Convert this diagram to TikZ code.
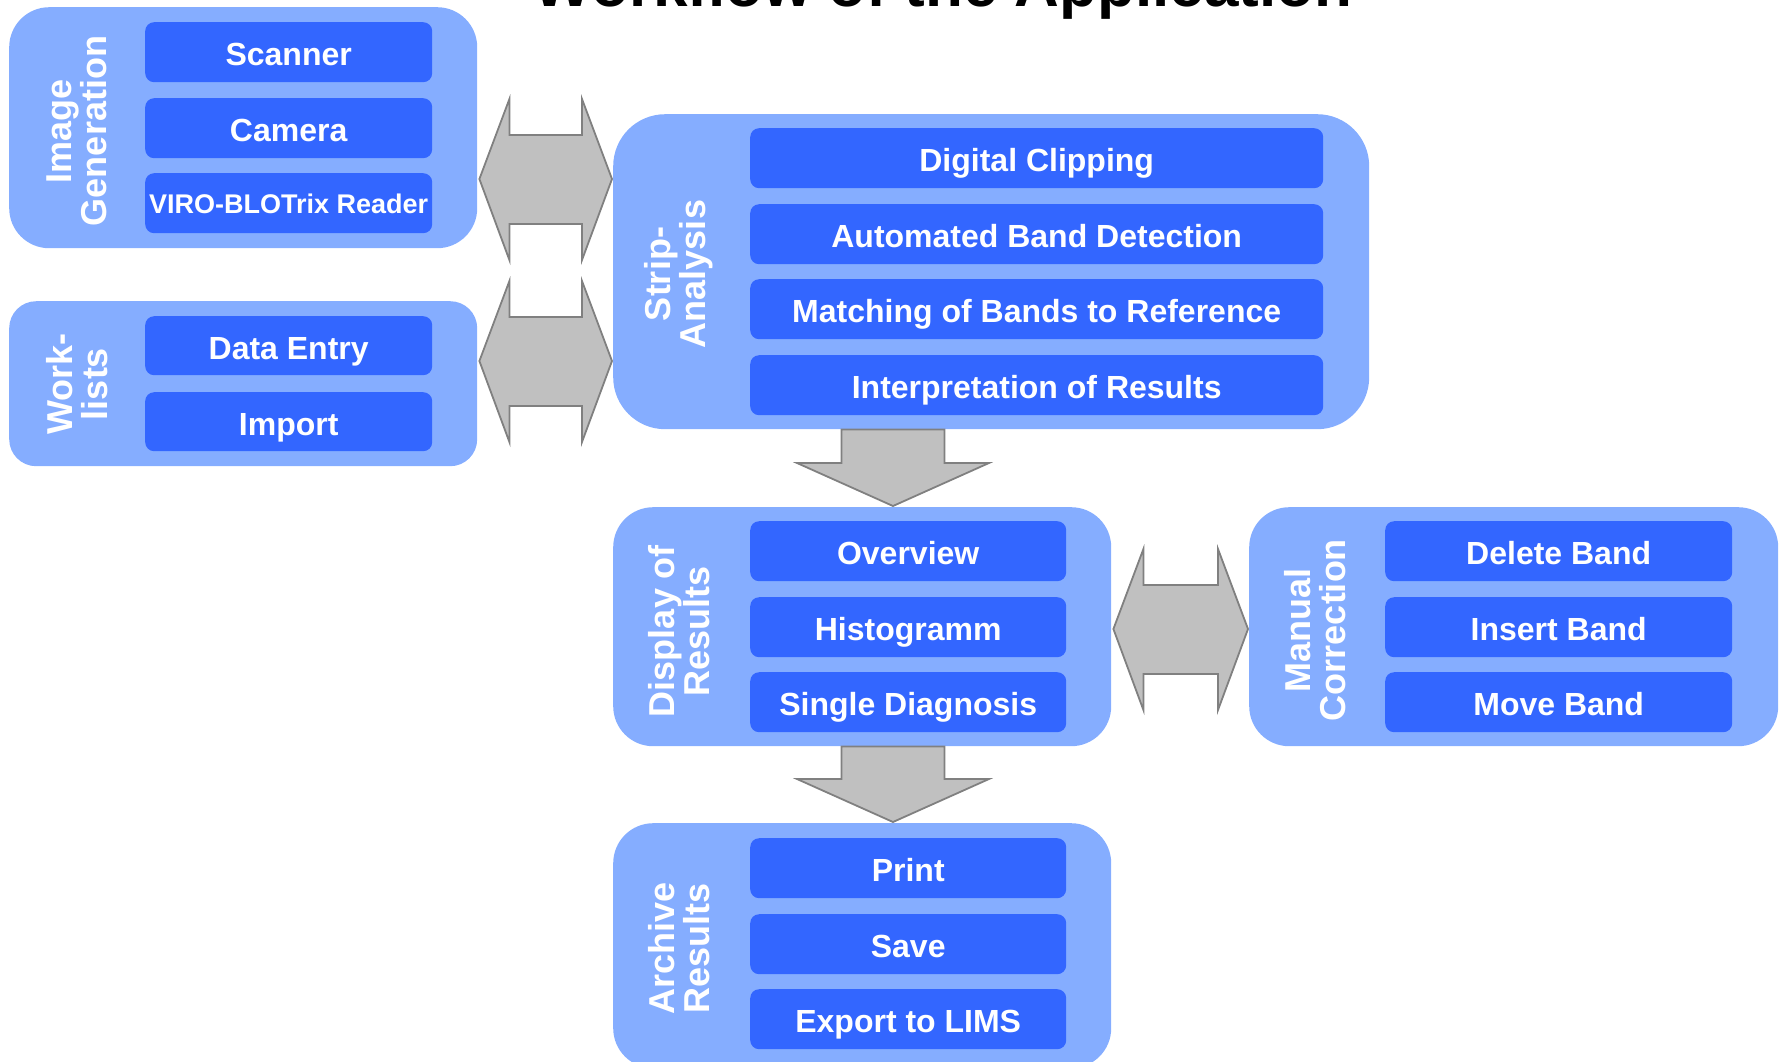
\documentclass[tikz,border=0pt]{standalone}
\usepackage{fontspec}
\setmainfont{Liberation Sans}
\usetikzlibrary{calc}
\definecolor{grpblue}{HTML}{85ADFF}
\definecolor{itemblue}{HTML}{3366FF}
\definecolor{arrfill}{HTML}{C0C0C0}
\definecolor{arrline}{HTML}{808080}
\newcommand\hdblarrow[2]{%
  \draw[blk] ($(#1)+(2,0)$) -- ($(#1)+(32,-80)$) -- ($(#1)+(32,-44)$) -- ($(#2)+(-31,-44)$)
    -- ($(#2)+(-31,-80)$) -- ($(#2)+(-1,0)$) -- ($(#2)+(-31,81)$) -- ($(#2)+(-31,45)$)
    -- ($(#1)+(32,45)$) -- ($(#1)+(32,81)$) -- cycle;}
\newcommand\vdownarrow[2]{%
  \draw[blk] ($(#1)+(-51.5,0)$) -- ($(#1)+(51.5,0)$) -- ($(#2)+(51.5,-44)$)
    -- ($(#2)+(96,-44)$) -- ($(#2)+(0,-1)$) -- ($(#2)+(-96,-44)$) -- ($(#2)+(-51.5,-44)$) -- cycle;}
\begin{document}
\begin{tikzpicture}[x=1pt,y=-1pt,
  grp/.style={fill=grpblue, draw=none, anchor=north west, inner sep=0pt, rounded corners=#1},
  item/.style={fill=itemblue, draw=none, anchor=north west, inner sep=0pt,
    rounded corners=9pt, text=white, text height=27pt, text depth=0pt,
    font=\fontsize{32}{36}\selectfont\bfseries},
  lbl/.style={text=white, rotate=90, align=center, font=\fontsize{36}{35}\selectfont\bfseries},
  blk/.style={fill=arrfill, draw=arrline, line width=1.8pt, line join=miter},
]
\useasboundingbox (0,0) rectangle (1781,1061);

% title (cut off at the top)
\node[anchor=base, font=\fontsize{62}{70}\selectfont\bfseries] (title) at (943,6) {Workflow of the Application};

% groups
\node[grp=40pt, minimum width=468pt, minimum height=241pt] (imgG) at (9,7) {};
\node[grp=27pt, minimum width=468pt, minimum height=165pt] (work) at (9,301) {};
\node[grp=52pt, minimum width=756pt, minimum height=315pt] (strip) at (613,114) {};
\node[grp=40pt, minimum width=498pt, minimum height=239pt] (disp) at (613,507) {};
\node[grp=40pt, minimum width=529pt, minimum height=239pt] (manual) at (1249,507) {};
\node[grp=40pt, minimum width=498pt, minimum height=245pt] (archive) at (613,823) {};

% group labels
\node[lbl] (imgL) at (77,131) {Image\\Generation};
\node[lbl] (workL) at (77,384) {Work-\\lists};
\node[lbl] (stripL) at (679,274) {Strip-\\Analysis};
\node[lbl] (dispL) at (679,631) {Display of\\Results};
\node[lbl] (manL) at (1315,630) {Manual\\Correction};
\node[lbl] (archL) at (679,948) {Archive\\Results};

% items
\node[item, minimum width=287pt, minimum height=60pt] (scan) at (145,22) {Scanner};
\node[item, minimum width=287pt, minimum height=60pt] (cam) at (145,98) {Camera};
\node[item, minimum width=287pt, minimum height=60pt, text height=21.5pt,
  font=\fontsize{27}{32}\selectfont\bfseries] (viro) at (145,173) {VIRO-BLOTrix Reader};
\node[item, minimum width=287pt, minimum height=59pt] (dataE) at (145,316) {Data Entry};
\node[item, minimum width=287pt, minimum height=59pt] (imp) at (145,392) {Import};

\node[item, minimum width=573pt, minimum height=60pt] (clip) at (750,128) {Digital Clipping};
\node[item, minimum width=573pt, minimum height=60pt] (autoB) at (750,204) {Automated Band Detection};
\node[item, minimum width=573pt, minimum height=60pt] (match) at (750,279) {Matching of Bands to Reference};
\node[item, minimum width=573pt, minimum height=60pt] (interp) at (750,355) {Interpretation of Results};

\node[item, minimum width=316pt, minimum height=60pt] (over) at (750,521) {Overview};
\node[item, minimum width=316pt, minimum height=60pt] (hist) at (750,597) {Histogramm};
\node[item, minimum width=316pt, minimum height=60pt] (single) at (750,672) {Single Diagnosis};

\node[item, minimum width=347pt, minimum height=60pt] (del) at (1385,521) {Delete Band};
\node[item, minimum width=347pt, minimum height=60pt] (ins) at (1385,597) {Insert Band};
\node[item, minimum width=347pt, minimum height=60pt] (mov) at (1385,672) {Move Band};

\node[item, minimum width=316pt, minimum height=60pt] (print) at (750,838) {Print};
\node[item, minimum width=316pt, minimum height=60pt] (save) at (750,914) {Save};
\node[item, minimum width=316pt, minimum height=60pt] (export) at (750,989) {Export to LIMS};

% block arrows
\coordinate (a1l) at (imgG.east |- 0,179);
\coordinate (a1r) at (strip.west |- 0,179);
\coordinate (a2l) at (work.east |- 0,361);
\coordinate (a2r) at (strip.west |- 0,361);
\coordinate (a3l) at (disp.east |- 0,629);
\coordinate (a3r) at (manual.west |- 0,629);
\hdblarrow{a1l}{a1r}
\hdblarrow{a2l}{a2r}
\hdblarrow{a3l}{a3r}

\coordinate (d1t) at (893,0 |- strip.south);
\coordinate (d1b) at (893,0 |- disp.north);
\coordinate (d2t) at (893,0 |- disp.south);
\coordinate (d2b) at (893,0 |- archive.north);
\vdownarrow{d1t}{d1b}
\vdownarrow{d2t}{d2b}
\end{tikzpicture}
\end{document}
